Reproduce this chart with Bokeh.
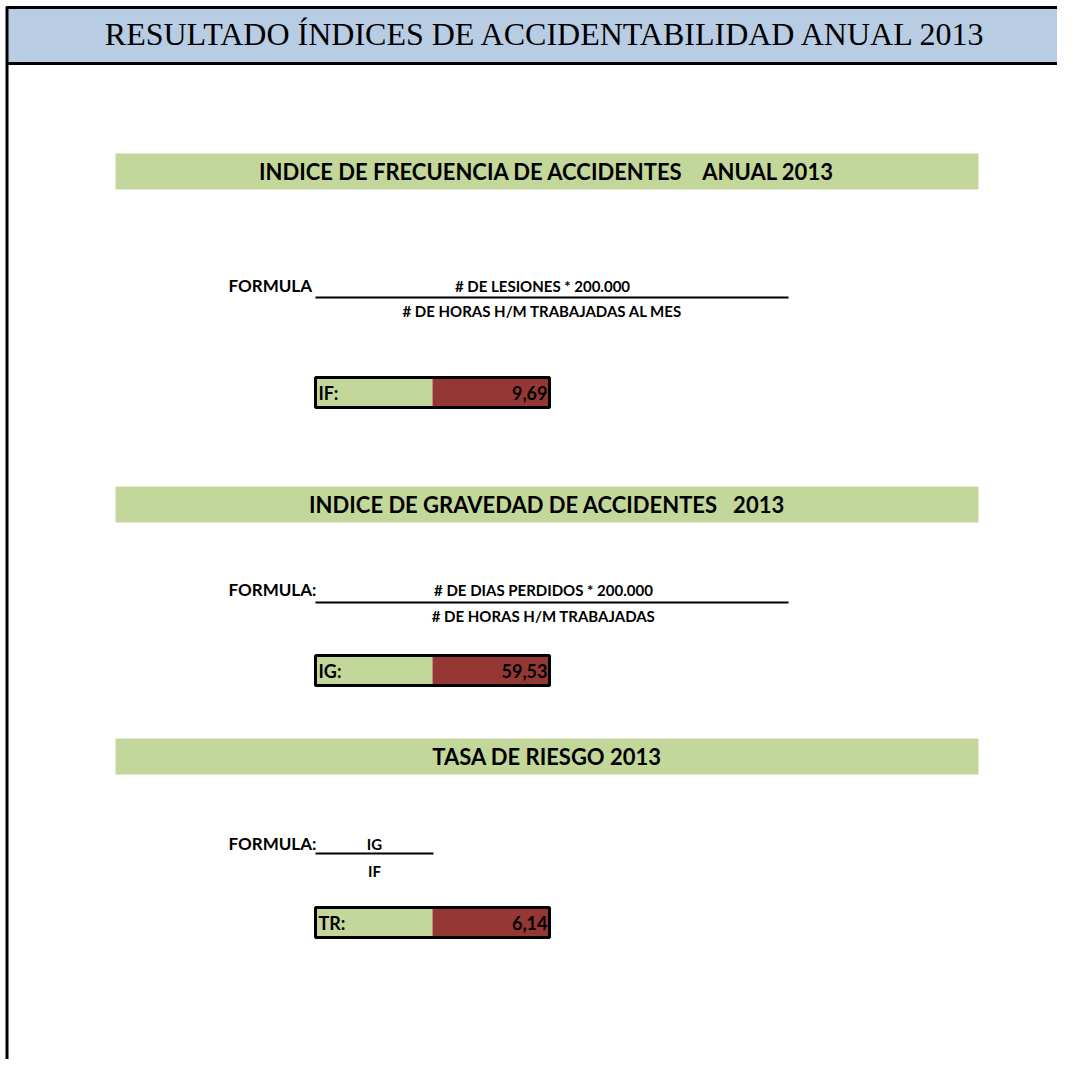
from bokeh.plotting import figure
from bokeh.models import Range1d, ColumnDataSource
from bokeh.core.properties import value
from bokeh.embed import file_html
from bokeh.resources import INLINE

# ---- data ----
title = "RESULTADO ÍNDICES DE ACCIDENTABILIDAD ANUAL 2013"
section_titles = [
    "INDICE DE FRECUENCIA DE ACCIDENTES\u00a0\u00a0\u00a0\u00a0ANUAL 2013",
    "INDICE DE GRAVEDAD DE ACCIDENTES\u00a0\u00a0\u00a02013",
    "TASA DE RIESGO 2013",
]
formula_labels = ["FORMULA", "FORMULA:", "FORMULA:"]
numerators = ["# DE LESIONES * 200.000", "# DE DIAS PERDIDOS * 200.000", "IG"]
denominators = ["# DE HORAS H/M TRABAJADAS AL MES", "# DE HORAS H/M TRABAJADAS", "IF"]
index_labels = ["IF:", "IG:", "TR:"]
index_values = [9.69, 59.53, 6.14]

# ---- layout (screen-pixel coordinates of the reference) ----
W, H = 1057, 1059
band_top = [153, 486, 738]
band_h = 36
band_left, band_right = 115, 978
formula_y = [285, 589, 843]
rule_y = [297, 602, 853]
den_y = [310, 615, 870]
rule_x = [(315, 788), (315, 788), (315, 433)]
frac_cx = [542, 543, 374]
box_top = [377, 655, 907]
box_h = 30
box_l, box_mid, box_r = 315, 432, 549

GREEN = "#C4D79B"
RED = "#953735"
BLUE = "#B8CCE4"
FONT = value("Lato")

p = figure(width=W, height=H, output_backend="svg", toolbar_location=None,
           x_range=Range1d(0, W), y_range=Range1d(H, 0),
           min_border=0)
p.axis.visible = False
p.grid.visible = False
p.outline_line_color = None
p.background_fill_color = "white"
p.border_fill_color = "white"

# header
p.quad(left=[6], right=[W + 10], top=[7], bottom=[63], fill_color=BLUE, line_color=None)
p.segment(x0=[6], y0=[7], x1=[W + 10], y1=[7], line_color="black", line_width=3)
p.segment(x0=[6], y0=[63], x1=[W + 10], y1=[63], line_color="black", line_width=3)
p.segment(x0=[6.5], y0=[6], x1=[6.5], y1=[H + 5], line_color="black", line_width=3)
p.text(x=[546], y=[33], text=[title], text_font=value("Liberation Serif"),
       text_font_size="32px", text_align="center", text_baseline="middle", text_color="black")

# section bands
src_b = ColumnDataSource(dict(
    top=band_top, bottom=[t + band_h for t in band_top],
    cy=[t + band_h / 2 for t in band_top], txt=section_titles))
p.quad(left=band_left, right=band_right, top="top", bottom="bottom", source=src_b,
       fill_color=GREEN, line_color=None)
p.text(x=(band_left + band_right) / 2, y="cy", text="txt", source=src_b, text_font=FONT,
       text_font_style="bold", text_font_size="22px", text_align="center",
       text_baseline="middle", text_color="black")

# formulas
p.text(x=[228] * 3, y=formula_y, text=formula_labels, text_font=FONT, text_font_style="bold",
       text_font_size="17px", text_align="left", text_baseline="middle", text_color="black")
p.text(x=frac_cx, y=formula_y, text=numerators, text_font=FONT, text_font_style="bold",
       text_font_size="15px", text_align="center", text_baseline="middle", text_color="black")
p.text(x=frac_cx, y=den_y, text=denominators, text_font=FONT, text_font_style="bold",
       text_font_size="15px", text_align="center", text_baseline="middle", text_color="black")
p.segment(x0=[a for a, b in rule_x], y0=rule_y, x1=[b for a, b in rule_x], y1=rule_y,
          line_color="black", line_width=2)

# result boxes
bt = box_top
bb = [t + box_h for t in bt]
p.quad(left=box_l, right=box_mid, top=bt, bottom=bb, fill_color=GREEN, line_color=None)
p.quad(left=box_mid, right=box_r, top=bt, bottom=bb, fill_color=RED, line_color=None)
p.quad(left=box_l, right=box_r, top=bt, bottom=bb, fill_color=None, line_color="black",
       line_width=3)
cy = [t + box_h / 2 for t in bt]
p.text(x=[box_l + 3] * 3, y=cy, text=index_labels, text_font=FONT, text_font_style="bold",
       text_font_size="18px", text_align="left", text_baseline="middle", text_color="black")
p.text(x=[box_r - 2] * 3, y=cy, text=[f"{v:.2f}".replace(".", ",") for v in index_values],
       text_font=FONT, text_font_style="bold", text_font_size="18px", text_align="right",
       text_baseline="middle", text_color="black")

open("out.html", "w").write(file_html(p, INLINE))
